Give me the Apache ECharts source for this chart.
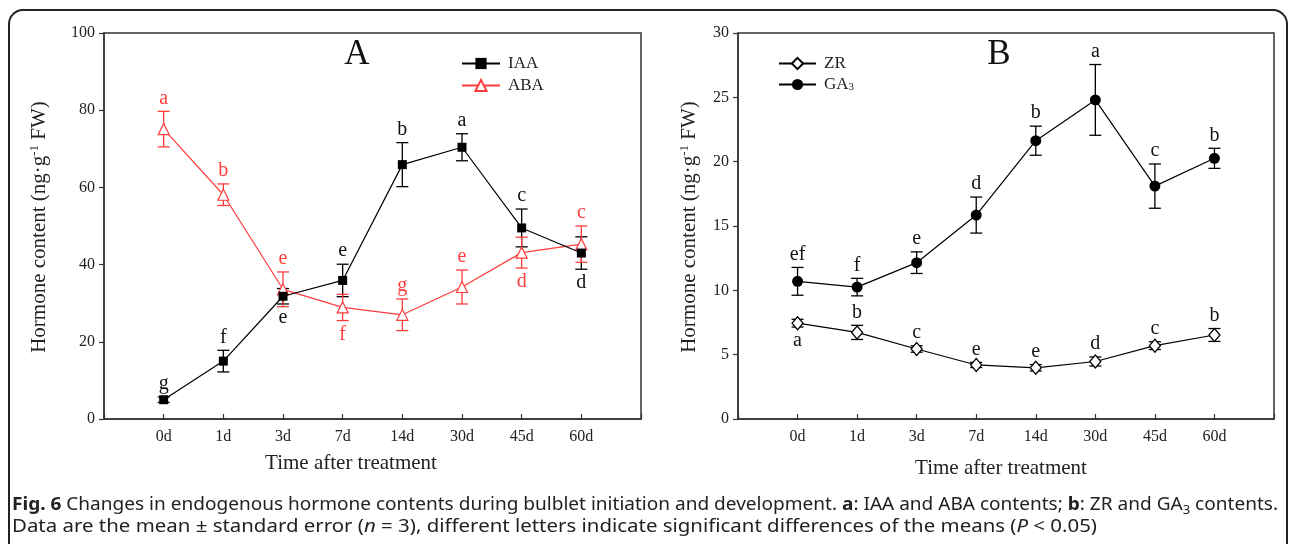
<!DOCTYPE html>
<html><head><meta charset="utf-8">
<script src="https://cdn.jsdelivr.net/npm/echarts@6/dist/echarts.min.js"></script>
<style>html,body{margin:0;padding:0;background:#fff}#c{width:1292px;height:544px}</style>
</head><body><div id="c"></div>
<script>
// ---------- DATA ----------
const categories = ['0d', '1d', '3d', '7d', '14d', '30d', '45d', '60d'];
const leftTicks = [0, 20, 40, 60, 80, 100];
const rightTicks = [0, 5, 10, 15, 20, 25, 30];

const iaaMean = [5.0, 15.0, 31.8, 35.9, 65.9, 70.4, 49.5, 43.0];
const iaaErr = [0.7, 2.8, 2.0, 4.2, 5.7, 3.5, 4.9, 4.2];
const iaaLetters = ['g', 'f', 'e', 'e', 'b', 'a', 'c', 'd'];
const iaaLetterPos = ['top', 'top', 'bottom', 'top', 'top', 'top', 'top', 'bottom'];

const abaMean = [75.1, 58.1, 33.6, 28.9, 27.0, 34.2, 43.1, 45.3];
const abaErr = [4.6, 2.8, 4.5, 3.4, 4.1, 4.4, 4.0, 4.7];
const abaLetters = ['a', 'b', 'e', 'f', 'g', 'e', 'd', 'c'];
const abaLetterPos = ['top', 'top', 'top', 'bottom', 'top', 'top', 'bottom', 'top'];

const zrMean = [7.45, 6.73, 5.44, 4.2, 3.98, 4.47, 5.7, 6.53];
const zrErr = [0.3, 0.55, 0.25, 0.2, 0.25, 0.35, 0.3, 0.5];
const zrLetters = ['a', 'b', 'c', 'e', 'e', 'd', 'c', 'b'];
const zrLetterPos = ['bottom', 'top', 'top', 'top', 'top', 'top', 'top', 'top'];

const ga3Mean = [10.7, 10.25, 12.15, 15.85, 21.63, 24.8, 18.1, 20.26];
const ga3Err = [1.08, 0.68, 0.84, 1.4, 1.13, 2.75, 1.72, 0.78];
const ga3Letters = ['ef', 'f', 'e', 'd', 'b', 'a', 'c', 'b'];
const ga3LetterPos = ['top', 'top', 'top', 'top', 'top', 'top', 'top', 'top'];

// ---------- STYLE ----------
const SERIF = 'Liberation Serif';
const SANS = 'Noto Sans';
const RED = '#ff3c3c';
const AX = '#333';

const chart = echarts.init(document.getElementById('c'), null, { renderer: 'canvas' });

function pts(arr) { return arr.map((v, i) => [i, v]); }
function errData(mean, err) { return mean.map((v, i) => [i, v, err[i]]); }

function errSeries(xi, mean, err, color) {
  return {
    type: 'custom', xAxisIndex: xi, yAxisIndex: xi, data: errData(mean, err), z: 2, silent: true,
    renderItem(params, api) {
      const x = api.value(0), y = api.value(1), e = api.value(2);
      const t = api.coord([x, y + e]), b = api.coord([x, y - e]);
      const w = 6;
      const st = { stroke: color, lineWidth: 1.3 };
      return {
        type: 'group', children: [
          { type: 'line', shape: { x1: t[0], y1: t[1], x2: b[0], y2: b[1] }, style: st },
          { type: 'line', shape: { x1: t[0] - w, y1: t[1], x2: t[0] + w, y2: t[1] }, style: st },
          { type: 'line', shape: { x1: b[0] - w, y1: b[1], x2: b[0] + w, y2: b[1] }, style: st }
        ]
      };
    }
  };
}

function letterSeries(xi, mean, err, letters, pos, color) {
  return {
    type: 'custom', xAxisIndex: xi, yAxisIndex: xi, data: errData(mean, err), z: 6, silent: true,
    renderItem(params, api) {
      const i = params.dataIndex;
      const x = api.value(0), y = api.value(1), e = api.value(2);
      const up = pos[i] === 'top';
      const p = api.coord([x, up ? y + e : y - e]);
      return {
        type: 'text', x: p[0], y: up ? p[1] - 13 : p[1] + 14,
        style: { text: letters[i], fill: color, font: '20px "' + SERIF + '"', textAlign: 'center', textVerticalAlign: 'middle' }
      };
    }
  };
}

function xAxisCfg(gi) {
  return {
    type: 'value', gridIndex: gi, min: -1, max: categories.length, interval: 1,
    axisLine: { onZero: false, lineStyle: { color: AX, width: 1.5 } },
    axisTick: { inside: true, length: 5, lineStyle: { color: AX, width: 1.2 } },
    axisLabel: { formatter: v => (categories[v] !== undefined ? categories[v] : ''), margin: 10, fontFamily: SERIF, fontSize: 16, color: '#222' },
    splitLine: { show: false }
  };
}
function yAxisCfg(gi, ticks) {
  return {
    type: 'value', gridIndex: gi, min: ticks[0], max: ticks[ticks.length - 1], interval: ticks[1] - ticks[0],
    axisLine: { show: true, onZero: false, lineStyle: { color: AX, width: 1.5 } },
    axisTick: { show: true, inside: false, length: 5, lineStyle: { color: AX, width: 1.2 } },
    axisLabel: { margin: 9, fontFamily: SERIF, fontSize: 16, color: '#222' },
    splitLine: { show: false }
  };
}

// caption sizing (fit the condensed look to the reference width)
const CAPF = 17.5;
const cv = document.createElement('canvas').getContext('2d');
function measure(segs) {
  let w = 0;
  segs.forEach(([t, s]) => {
    cv.font = (s === 'bold' ? 'bold ' : '') + (s === 'italic' ? 'italic ' : '') + (s === 'sub' ? '12px' : CAPF + 'px') + ' "' + SANS + '"';
    w += cv.measureText(t).width;
  });
  return w;
}
const seg1 = [['Fig. 6', 'bold'], [' Changes in endogenous hormone contents during bulblet initiation and development. ', 'normal'], ['a', 'bold'], [': IAA and ABA contents; ', 'normal'], ['b', 'bold'], [': ZR and GA', 'normal'], ['3', 'sub'], [' contents.', 'normal']];
const seg2 = [['Data are the mean ± standard error (', 'normal'], ['n', 'italic'], [' = 3), different letters indicate significant differences of the means (', 'normal'], ['P', 'italic'], [' < 0.05)', 'normal']];
const capScale1 = 1266 / measure(seg1);
const capScale2 = 1085 / measure(seg2);

const capRich = {
  b: { fontFamily: SANS, fontSize: CAPF, fontWeight: 'bold', fill: '#222', lineHeight: 24 },
  i: { fontFamily: SANS, fontSize: CAPF, fontStyle: 'italic', fill: '#222', lineHeight: 24 },
  sub: { fontFamily: SANS, fontSize: 12, fill: '#222', verticalAlign: 'bottom', lineHeight: 15 }
};
const yTitleRich = {
  sup: { fontFamily: SERIF, fontSize: 13, fill: '#222', verticalAlign: 'top', lineHeight: 13 }
};

const option = {
  animation: false,
  backgroundColor: '#fff',
  grid: [
    { left: 104, top: 33, width: 537, height: 386, show: true, borderColor: AX, borderWidth: 1.5, backgroundColor: 'transparent' },
    { left: 738, top: 33, width: 536, height: 386, show: true, borderColor: AX, borderWidth: 1.5, backgroundColor: 'transparent' }
  ],
  xAxis: [xAxisCfg(0), xAxisCfg(1)],
  yAxis: [yAxisCfg(0, leftTicks), yAxisCfg(1, rightTicks)],
  legend: [
    {
      data: ['IAA', 'ABA'], left: 456, top: 50, orient: 'vertical', itemWidth: 38, itemHeight: 14, itemGap: 5,
      textStyle: { fontFamily: SERIF, fontSize: 17, color: '#222', padding: [0, 0, 0, 3] }
    },
    {
      data: ['ZR', 'GA3'], left: 773, top: 50, orient: 'vertical', itemWidth: 37, itemHeight: 14, itemGap: 4,
      formatter: n => (n === 'GA3' ? 'GA{sub|3}' : n),
      textStyle: { fontFamily: SERIF, fontSize: 17, color: '#222', padding: [0, 0, 0, 3],
        rich: { sub: { fontFamily: SERIF, fontSize: 11, verticalAlign: 'bottom', lineHeight: 12, padding: [6, 0, 0, 0] } } }
    }
  ],
  series: [
    errSeries(0, iaaMean, iaaErr, '#000'),
    errSeries(0, abaMean, abaErr, RED),
    {
      name: 'IAA', type: 'line', xAxisIndex: 0, yAxisIndex: 0, data: pts(iaaMean), z: 4,
      symbol: 'rect', symbolSize: 9, itemStyle: { color: '#000' }, lineStyle: { color: '#000', width: 1.2 }
    },
    {
      name: 'ABA', type: 'line', xAxisIndex: 0, yAxisIndex: 0, data: pts(abaMean), z: 3,
      symbol: 'triangle', symbolSize: 11, itemStyle: { color: '#fff', borderColor: RED, borderWidth: 1.2 }, lineStyle: { color: RED, width: 1.2 }
    },
    letterSeries(0, iaaMean, iaaErr, iaaLetters, iaaLetterPos, '#111'),
    letterSeries(0, abaMean, abaErr, abaLetters, abaLetterPos, RED),

    errSeries(1, zrMean, zrErr, '#000'),
    errSeries(1, ga3Mean, ga3Err, '#000'),
    {
      name: 'ZR', type: 'line', xAxisIndex: 1, yAxisIndex: 1, data: pts(zrMean), z: 3,
      symbol: 'diamond', symbolSize: [11, 13], itemStyle: { color: '#fff', borderColor: '#000', borderWidth: 1.3 }, lineStyle: { color: '#000', width: 1.2 }
    },
    {
      name: 'GA3', type: 'line', xAxisIndex: 1, yAxisIndex: 1, data: pts(ga3Mean), z: 4,
      symbol: 'circle', symbolSize: 11, itemStyle: { color: '#000' }, lineStyle: { color: '#000', width: 1.2 }
    },
    letterSeries(1, zrMean, zrErr, zrLetters, zrLetterPos, '#111'),
    letterSeries(1, ga3Mean, ga3Err, ga3Letters, ga3LetterPos, '#111')
  ],
  graphic: [
    { type: 'rect', shape: { x: 9, y: 10, width: 1278, height: 620, r: 14 }, style: { fill: 'none', stroke: '#222', lineWidth: 2 }, z: 0, silent: true },
    { type: 'text', x: 357, y: 55, style: { text: 'A', font: '35px "' + SERIF + '"', fill: '#111', textAlign: 'center', textVerticalAlign: 'middle' } },
    { type: 'text', x: 999, y: 55, style: { text: 'B', font: '35px "' + SERIF + '"', fill: '#111', textAlign: 'center', textVerticalAlign: 'middle' } },
    { type: 'text', x: 351, y: 463, style: { text: 'Time after treatment', font: '21px "' + SERIF + '"', fill: '#222', textAlign: 'center', textVerticalAlign: 'middle' } },
    { type: 'text', x: 1001, y: 468, style: { text: 'Time after treatment', font: '21px "' + SERIF + '"', fill: '#222', textAlign: 'center', textVerticalAlign: 'middle' } },
    { type: 'text', x: 39, y: 227, rotation: Math.PI / 2,
      style: { text: 'Hormone content (ng·g{sup|-1} FW)', font: '21px "' + SERIF + '"', fill: '#222', textAlign: 'center', textVerticalAlign: 'middle', rich: yTitleRich } },
    { type: 'text', x: 689, y: 227, rotation: Math.PI / 2,
      style: { text: 'Hormone content (ng·g{sup|-1} FW)', font: '21px "' + SERIF + '"', fill: '#222', textAlign: 'center', textVerticalAlign: 'middle', rich: yTitleRich } },
    { type: 'text', x: 12, y: 505, scaleX: capScale1,
      style: { text: '{b|Fig. 6} Changes in endogenous hormone contents during bulblet initiation and development. {b|a}: IAA and ABA contents; {b|b}: ZR and GA{sub|3} contents.',
        font: CAPF + 'px "' + SANS + '"', fill: '#222', textAlign: 'left', textVerticalAlign: 'middle', rich: capRich } },
    { type: 'text', x: 12, y: 527, scaleX: capScale2,
      style: { text: 'Data are the mean ± standard error ({i|n} = 3), different letters indicate significant differences of the means ({i|P} < 0.05)',
        font: CAPF + 'px "' + SANS + '"', fill: '#222', textAlign: 'left', textVerticalAlign: 'middle', rich: capRich } }
  ]
};
chart.setOption(option);
</script></body></html>
